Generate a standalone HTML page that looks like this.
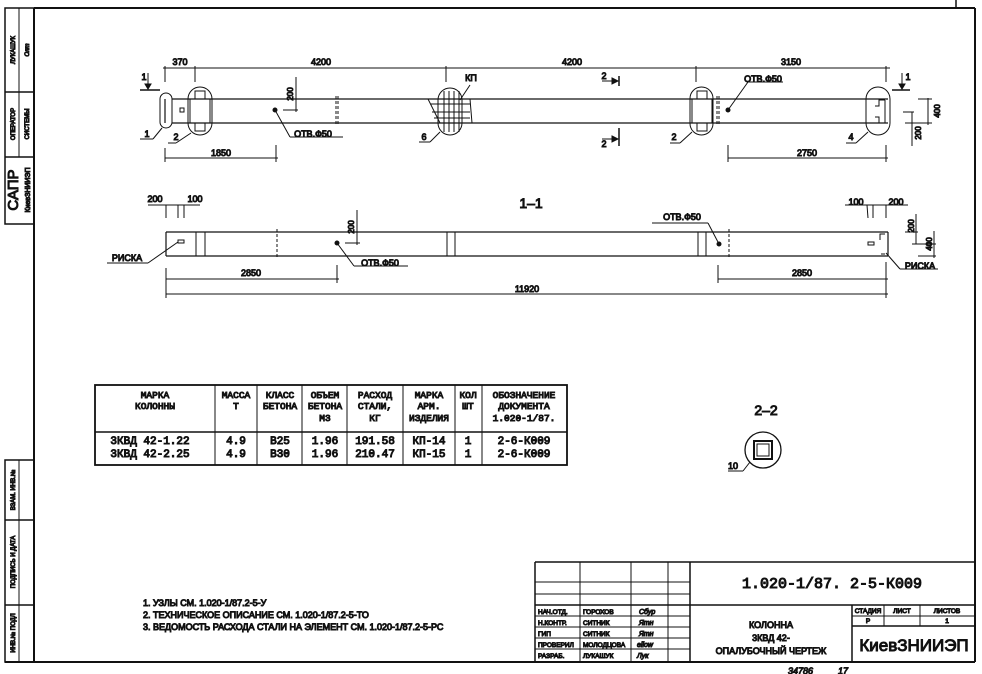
<!DOCTYPE html>
<html><head><meta charset="utf-8"><style>
html,body{margin:0;padding:0;background:#fff;}
svg{display:block;font-family:"Liberation Sans",sans-serif;}
text{fill:#111;}
</style></head><body>
<svg width="982" height="674" viewBox="0 0 982 674" xmlns="http://www.w3.org/2000/svg">
<rect width="982" height="674" fill="#fff"/>
<g stroke="#111" fill="none">
<line x1="34" y1="8" x2="975" y2="8" stroke-width="2"/>
<line x1="34" y1="8" x2="34" y2="662" stroke-width="2"/>
<line x1="5" y1="662" x2="975" y2="662" stroke-width="2"/>
<line x1="975" y1="8" x2="975" y2="662" stroke-width="2"/>
<polyline points="956,0 956,8" stroke-width="1.5"/>
<rect x="5" y="8" width="29" height="216" stroke-width="1.5"/>
<line x1="5" y1="92" x2="34" y2="92" stroke-width="1.5"/>
<line x1="5" y1="157" x2="34" y2="157" stroke-width="1.5"/>
<line x1="19" y1="8" x2="19" y2="157" stroke-width="1"/>
<rect x="5" y="460" width="29" height="202" stroke-width="1.5"/>
<line x1="5" y1="520" x2="34" y2="520" stroke-width="1.5"/>
<line x1="5" y1="605" x2="34" y2="605" stroke-width="1.5"/>
<line x1="19" y1="460" x2="19" y2="662" stroke-width="1"/>

<g stroke-width="1.2">
<line x1="172" y1="99" x2="888" y2="99"/>
<line x1="172" y1="123" x2="888" y2="123"/>
<line x1="165" y1="99" x2="165" y2="123"/>
</g>
<g stroke-width="1">
<rect x="160" y="93" width="12" height="35" rx="6"/>
<rect x="188" y="87" width="24" height="48" rx="12"/>
<path d="M195 91 h10 v8 h5 v24 h-5 v8 h-10 v-8 h-5 v-24 h5 z"/>
<rect x="180" y="108" width="4" height="4"/>
<rect x="438" y="88" width="24" height="47" rx="12"/>
<path d="M428 99 L470 99 L472 123 L440 123 Z"/>
<line x1="444" y1="91" x2="444" y2="132"/><line x1="449" y1="91" x2="449" y2="132"/>
<line x1="454" y1="91" x2="454" y2="132"/><line x1="459" y1="91" x2="459" y2="132"/>
<line x1="430" y1="104" x2="470" y2="104"/><line x1="432" y1="112" x2="470" y2="112"/><line x1="434" y1="118" x2="470" y2="118"/>
<rect x="690" y="87" width="23" height="48" rx="11.5"/>
<path d="M697 91 h10 v8 h5 v24 h-5 v8 h-10 v-8 h-5 v-24 h5 z"/>
<rect x="866" y="87" width="24" height="48" rx="12"/>
<path d="M885 100 h-6 v6 h-4 M885 123 h-6 v-6 h-4 M885 100 v23"/>
<line x1="336" y1="96" x2="336" y2="126" stroke-dasharray="3,2"/>
<line x1="338" y1="96" x2="338" y2="126" stroke-dasharray="3,2"/>
<line x1="717" y1="96" x2="717" y2="126" stroke-dasharray="3,2"/>
<line x1="719" y1="96" x2="719" y2="126" stroke-dasharray="3,2"/>
<line x1="163" y1="68" x2="890" y2="68"/>
<line x1="165" y1="66" x2="165" y2="82"/><line x1="195" y1="66" x2="195" y2="82"/>
<line x1="446" y1="66" x2="446" y2="82"/><line x1="696" y1="66" x2="696" y2="82"/>
<line x1="886" y1="66" x2="886" y2="82"/>
<line x1="165" y1="158" x2="278" y2="158"/><line x1="165" y1="148" x2="165" y2="162"/><line x1="276" y1="145" x2="276" y2="162"/>
<line x1="728" y1="158" x2="888" y2="158"/><line x1="728" y1="145" x2="728" y2="162"/><line x1="886" y1="145" x2="886" y2="162"/>
<line x1="296" y1="77" x2="296" y2="112"/><line x1="283" y1="110" x2="298" y2="110"/>
<circle cx="275" cy="110" r="2" fill="#111"/>
<line x1="275" y1="110" x2="290" y2="137"/><line x1="290" y1="137" x2="343" y2="137"/>
<line x1="728" y1="110" x2="748" y2="82"/><line x1="748" y1="82" x2="783" y2="82"/>
<circle cx="728" cy="110" r="2" fill="#111"/>
<line x1="140" y1="139" x2="153" y2="139"/><line x1="153" y1="139" x2="162" y2="128"/>
<line x1="176" y1="143" x2="191" y2="133"/><line x1="168" y1="143" x2="176" y2="143"/>
<line x1="419" y1="142" x2="430" y2="142"/><line x1="430" y1="142" x2="440" y2="132"/>
<line x1="470" y1="85" x2="460" y2="100"/>
<line x1="670" y1="143" x2="680" y2="143"/><line x1="680" y1="143" x2="692" y2="132"/>
<line x1="846" y1="143" x2="856" y2="143"/><line x1="856" y1="143" x2="868" y2="132"/>
<line x1="140" y1="90" x2="160" y2="90" stroke-width="1.5"/>
<line x1="148" y1="73" x2="148" y2="88"/><path d="M145 84 L148 89 L151 84 Z" fill="#111"/>
<line x1="892" y1="90" x2="910" y2="90" stroke-width="1.5"/>
<line x1="902" y1="73" x2="902" y2="88"/><path d="M899 84 L902 89 L905 84 Z" fill="#111"/>
<line x1="619" y1="76" x2="619" y2="86" stroke-width="1.5"/><path d="M602 81 L618 81 M612 78 L618 81 L612 84 Z" fill="#111"/>
<line x1="619" y1="128" x2="619" y2="146" stroke-width="1.5"/><path d="M602 139 L618 139 M612 136 L618 139 L612 142 Z" fill="#111"/>
<line x1="928" y1="98" x2="928" y2="125"/><line x1="918" y1="99" x2="932" y2="99"/><line x1="905" y1="123" x2="932" y2="123"/>
<line x1="912" y1="112" x2="912" y2="146"/><line x1="903" y1="112" x2="914" y2="112"/>

<g stroke-width="1.2">
<line x1="166" y1="232" x2="888" y2="232"/>
<line x1="166" y1="256" x2="888" y2="256"/>
<line x1="166" y1="232" x2="166" y2="256"/>
<line x1="888" y1="232" x2="888" y2="256"/>
</g>
<line x1="196" y1="232" x2="196" y2="256"/><line x1="205" y1="232" x2="205" y2="256"/>
<line x1="447" y1="232" x2="447" y2="256"/><line x1="455" y1="232" x2="455" y2="256"/>
<line x1="698" y1="232" x2="698" y2="256"/><line x1="706" y1="232" x2="706" y2="256"/>
<line x1="277" y1="229" x2="277" y2="259" stroke-dasharray="3,2"/>
<line x1="729" y1="229" x2="729" y2="259" stroke-dasharray="3,2"/>
<rect x="178" y="240" width="6" height="3"/><rect x="868" y="242" width="6" height="3"/>
<path d="M885 234 h-5 v6 M885 254 h-4"/>
<line x1="166" y1="205" x2="166" y2="218"/><line x1="178" y1="205" x2="178" y2="218"/><line x1="184" y1="205" x2="184" y2="218"/>
<line x1="148" y1="205" x2="200" y2="205"/>
<line x1="867" y1="205" x2="868" y2="218"/><line x1="873" y1="205" x2="873" y2="218"/><line x1="886" y1="205" x2="886" y2="218"/>
<line x1="845" y1="205" x2="908" y2="205"/>
<line x1="357" y1="210" x2="357" y2="245"/><line x1="345" y1="243" x2="360" y2="243"/>
<circle cx="337" cy="243" r="2" fill="#111"/>
<line x1="337" y1="243" x2="354" y2="266"/><line x1="354" y1="266" x2="408" y2="266"/>
<circle cx="719" cy="244" r="2" fill="#111"/>
<line x1="719" y1="244" x2="708" y2="223"/><line x1="652" y1="223" x2="708" y2="223"/>
<line x1="107" y1="263" x2="148" y2="263"/><line x1="148" y1="263" x2="178" y2="242"/>
<line x1="886" y1="253" x2="900" y2="269"/><line x1="900" y1="269" x2="938" y2="269"/>
<line x1="916" y1="214" x2="916" y2="244"/><line x1="905" y1="232" x2="918" y2="232"/>
<line x1="934" y1="231" x2="934" y2="258"/><line x1="912" y1="244" x2="936" y2="244"/><line x1="918" y1="256" x2="936" y2="256"/>
<line x1="166" y1="279" x2="339" y2="279"/><line x1="166" y1="268" x2="166" y2="298"/><line x1="337" y1="265" x2="337" y2="283"/>
<line x1="718" y1="279" x2="888" y2="279"/><line x1="718" y1="265" x2="718" y2="283"/><line x1="886" y1="262" x2="886" y2="298"/>
<line x1="166" y1="294" x2="888" y2="294"/>

<rect x="95" y="385" width="472" height="80" stroke-width="1.8"/>
<line x1="95" y1="432" x2="567" y2="432" stroke-width="1.5"/>
<line x1="215" y1="385" x2="215" y2="465"/><line x1="257" y1="385" x2="257" y2="465"/>
<line x1="302" y1="385" x2="302" y2="465"/><line x1="347" y1="385" x2="347" y2="465"/>
<line x1="403" y1="385" x2="403" y2="465"/><line x1="455" y1="385" x2="455" y2="465"/>
<line x1="482" y1="385" x2="482" y2="465"/>

<circle cx="763" cy="450" r="18" stroke-width="1.3"/>
<rect x="754" y="441" width="18" height="18" stroke-width="2"/>
<rect x="757" y="444" width="12" height="12"/>
<line x1="750" y1="462" x2="743" y2="471"/><line x1="728" y1="471" x2="743" y2="471"/>

<line x1="535" y1="562" x2="535" y2="662" stroke-width="1.5"/>
<line x1="535" y1="562" x2="975" y2="562" stroke-width="1.5"/>
<line x1="580" y1="562" x2="580" y2="662"/><line x1="631" y1="562" x2="631" y2="662"/>
<line x1="668" y1="562" x2="668" y2="662"/><line x1="690" y1="562" x2="690" y2="662" stroke-width="1.5"/>
<line x1="535" y1="582" x2="690" y2="582"/><line x1="535" y1="594" x2="690" y2="594"/>
<line x1="535" y1="605" x2="975" y2="605" stroke-width="1.5"/>
<line x1="535" y1="616" x2="690" y2="616"/><line x1="535" y1="627" x2="690" y2="627"/>
<line x1="535" y1="638" x2="690" y2="638"/><line x1="535" y1="649" x2="690" y2="649"/>
<line x1="852" y1="605" x2="852" y2="662" stroke-width="1.5"/>
<line x1="884" y1="605" x2="884" y2="626"/><line x1="920" y1="605" x2="920" y2="626"/>
<line x1="852" y1="616" x2="975" y2="616"/><line x1="852" y1="626" x2="975" y2="626" stroke-width="1.5"/>
</g>

<g font-size="9" text-anchor="middle">
<text x="180" y="65">370</text><text x="321" y="65">4200</text><text x="572" y="65">4200</text><text x="791" y="65">3150</text>
<text x="221" y="156">1850</text><text x="807" y="156">2750</text>
<text x="251" y="276">2850</text><text x="802" y="276">2850</text><text x="527" y="292">11920</text>
<text x="155" y="202">200</text><text x="195" y="202">100</text>
<text x="856" y="205">100</text><text x="896" y="205">200</text>
<text x="313" y="137">ОТВ.Ф50</text><text x="763" y="82">ОТВ.Ф50</text>
<text x="380" y="266">ОТВ.Ф50</text><text x="682" y="220">ОТВ.Ф50</text>
<text x="127" y="261">РИСКА</text><text x="920" y="269">РИСКА</text>
<text x="147" y="137">1</text><text x="176" y="140">2</text><text x="424" y="140">6</text><text x="674" y="140">2</text><text x="851" y="140">4</text>
<text x="471" y="81">КП</text>
<text x="144" y="80">1</text><text x="908" y="80">1</text>
<text x="604" y="79">2</text><text x="604" y="147">2</text>
<text x="733" y="469">10</text>
</g>
<g font-size="8" text-anchor="middle">
<text transform="translate(293,94) rotate(-90)">200</text>
<text transform="translate(354,227) rotate(-90)">200</text>
<text transform="translate(940,111) rotate(-90)">400</text>
<text transform="translate(921,133) rotate(-90)">200</text>
<text transform="translate(914,226) rotate(-90)">200</text>
<text transform="translate(932,244) rotate(-90)">400</text>
</g>
<text x="531" y="208" font-size="14" text-anchor="middle">1–1</text>
<text x="766" y="415" font-size="14" text-anchor="middle">2–2</text>

<g font-family="Liberation Mono, monospace" font-size="9.5" text-anchor="middle">
<text x="155" y="398">МАРКА</text><text x="155" y="409">КОЛОННЫ</text>
<text x="236" y="398">МАССА</text><text x="236" y="409">Т</text>
<text x="280" y="398">КЛАСС</text><text x="280" y="409">БЕТОНА</text>
<text x="325" y="398">ОБЪЕМ</text><text x="325" y="409">БЕТОНА</text><text x="325" y="421">М3</text>
<text x="375" y="398">РАСХОД</text><text x="375" y="409">СТАЛИ,</text><text x="375" y="421">КГ</text>
<text x="429" y="398">МАРКА</text><text x="429" y="409">АРМ.</text><text x="429" y="421">ИЗДЕЛИЯ</text>
<text x="468" y="398">КОЛ</text><text x="468" y="409">ШТ</text>
<text x="524" y="398">ОБОЗНАЧЕНИЕ</text><text x="524" y="409">ДОКУМЕНТА</text><text x="524" y="421">1.020-1/87.</text>
<g font-size="11">
<text x="150" y="444">3КВД 42-1.22</text><text x="150" y="457">3КВД 42-2.25</text>
<text x="236" y="444">4.9</text><text x="236" y="457">4.9</text>
<text x="280" y="444">В25</text><text x="280" y="457">В30</text>
<text x="325" y="444">1.96</text><text x="325" y="457">1.96</text>
<text x="375" y="444">191.58</text><text x="375" y="457">210.47</text>
<text x="429" y="444">КП-14</text><text x="429" y="457">КП-15</text>
<text x="468" y="444">1</text><text x="468" y="457">1</text>
<text x="524" y="444">2-6-К009</text><text x="524" y="457">2-6-К009</text>
</g>
</g>

<g font-size="9">
<text x="143" y="606">1. УЗЛЫ СМ. 1.020-1/87.2-5-У</text>
<text x="143" y="618">2. ТЕХНИЧЕСКОЕ ОПИСАНИЕ СМ. 1.020-1/87.2-5-ТО</text>
<text x="143" y="630">3. ВЕДОМОСТЬ РАСХОДА СТАЛИ НА ЭЛЕМЕНТ СМ. 1.020-1/87.2-5-РС</text>
</g>

<text x="832" y="588" font-family="Liberation Mono, monospace" font-size="15" text-anchor="middle">1.020-1/87. 2-5-К009</text>
<g font-size="6.5">
<text x="538" y="614">НАЧ.ОТД.</text><text x="538" y="625">Н.КОНТР.</text><text x="538" y="636">ГИП</text><text x="538" y="647">ПРОВЕРИЛ</text><text x="538" y="658">РАЗРАБ.</text>
<text x="583" y="614">ГОРОХОВ</text><text x="583" y="625">СИТНИК</text><text x="583" y="636">СИТНИК</text><text x="583" y="647">МОЛОДЦОВА</text><text x="583" y="658">ЛУКАШУК</text>
</g>
<g font-size="6.5" text-anchor="middle">
<text x="868" y="613">СТАДИЯ</text><text x="902" y="613">ЛИСТ</text><text x="947" y="613">ЛИСТОВ</text>
<text x="868" y="623">Р</text><text x="947" y="623">1</text>
</g>
<g font-size="9" text-anchor="middle">
<text x="771" y="628">КОЛОННА</text><text x="771" y="641">3КВД 42-</text><text x="771" y="654">ОПАЛУБОЧНЫЙ ЧЕРТЕЖ</text>
</g>
<text x="914" y="651" font-size="17" text-anchor="middle">КиевЗНИИЭП</text>
<g font-size="7" font-style="italic" fill="#333">
<text x="639" y="614">Сбур</text><text x="639" y="625">Ятн</text><text x="639" y="636">Ятн</text><text x="637" y="647">ellow</text><text x="637" y="658">Лук</text>
</g>
<text x="788" y="674" font-size="9" font-style="italic">34786</text><text x="838" y="674" font-size="9" font-style="italic">17</text>

<g font-size="6" text-anchor="middle">
<text transform="translate(15,50) rotate(-90)">ЛУКАШУК</text>
<text transform="translate(29,50) rotate(-90)" font-style="italic">Олт</text>
<text transform="translate(15,124) rotate(-90)">ОПЕРАТОР</text>
<text transform="translate(29,124) rotate(-90)">СИСТЕМЫ</text>
<text transform="translate(18,190) rotate(-90)" font-size="15">САПР</text>
<text transform="translate(30,190) rotate(-90)" font-size="7">КиевЗНИИЭП</text>
<text transform="translate(15,490) rotate(-90)">ВЗАМ. ИНВ.№</text>
<text transform="translate(15,562) rotate(-90)">ПОДПИСЬ И ДАТА</text>
<text transform="translate(15,633) rotate(-90)">ИНВ.№ ПОДЛ</text>
</g>
</svg>
</body></html>
